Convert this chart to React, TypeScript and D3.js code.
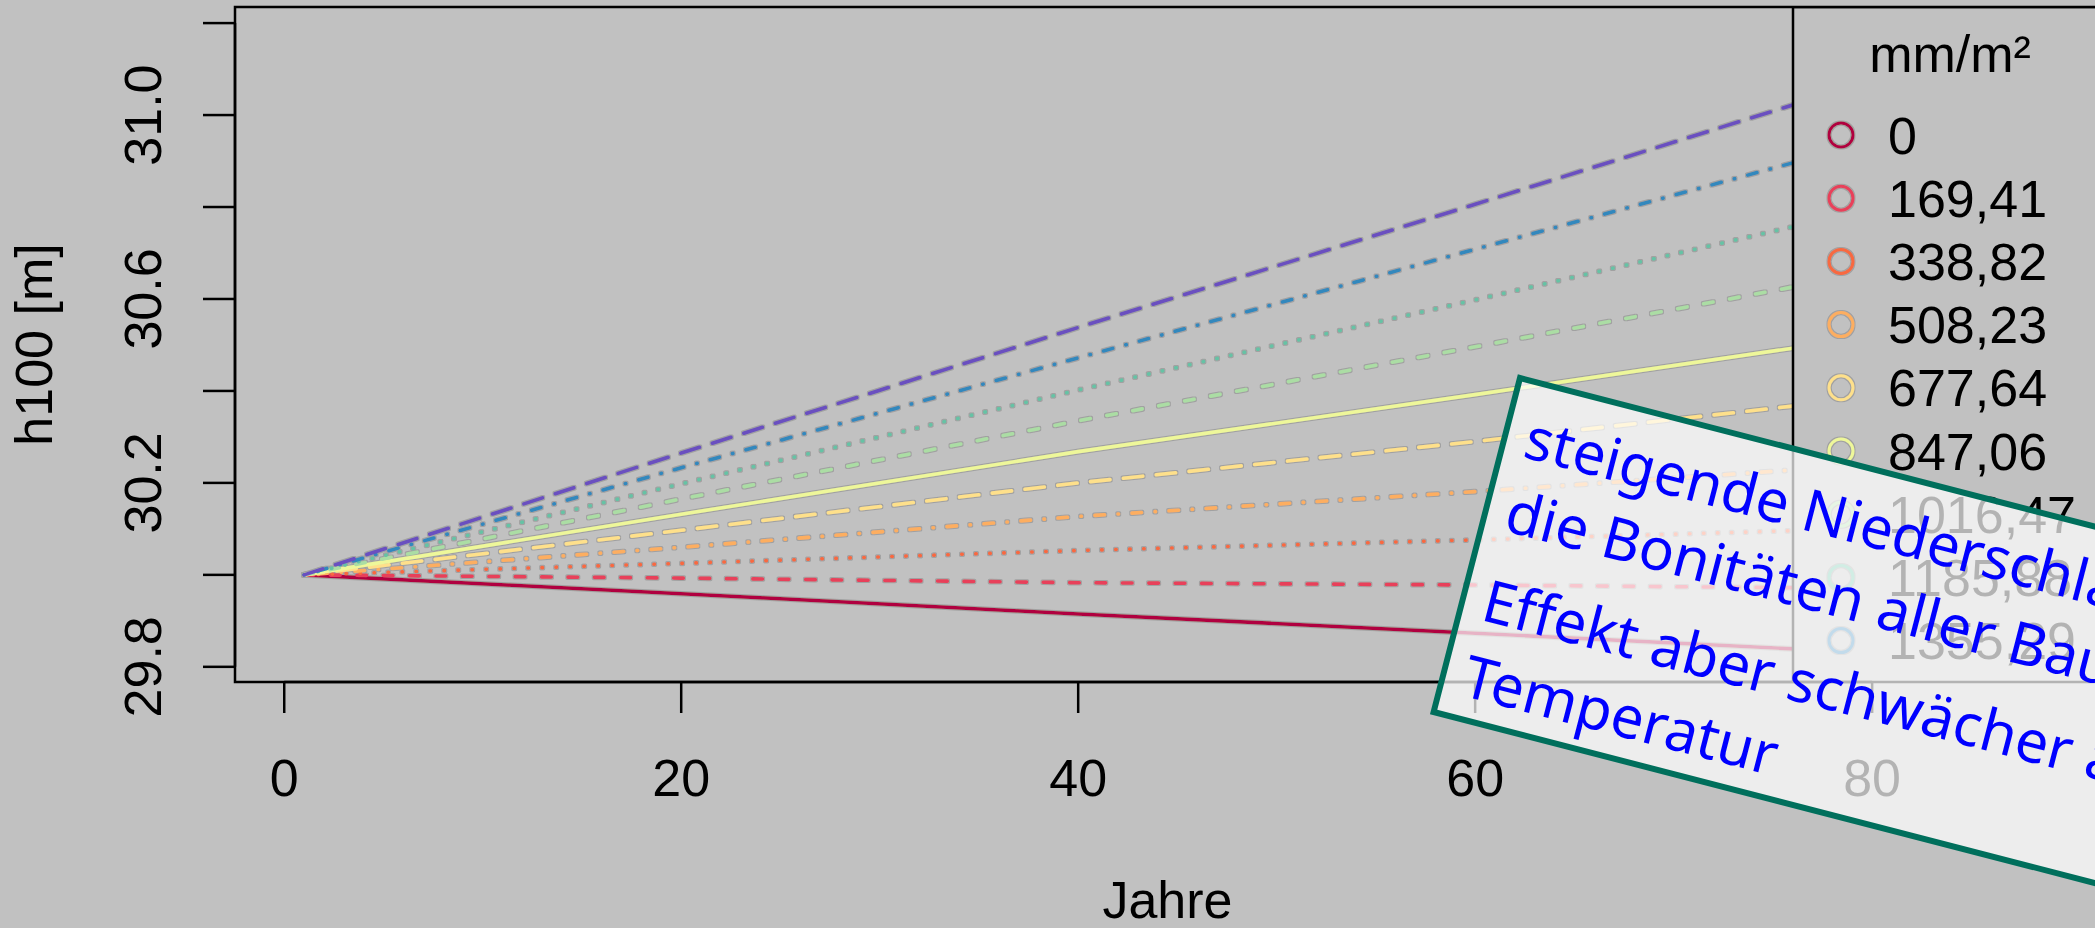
import React from 'react';
import * as d3 from 'd3';

// ---------- data ----------
const years = [1, 20, 40, 60, 76, 88];
const precipLabels = ['0', '169,41', '338,82', '508,23', '677,64', '847,06', '1016,47', '1185,88', '1355,29', '1524,71'];
const h100_p0 = [30.0, 29.959, 29.915, 29.873, 29.839, 29.814];
const h100_p169 = [30.0, 29.993, 29.983, 29.978, 29.972, 29.968];
const h100_p338 = [30.0, 30.025, 30.053, 30.076, 30.096, 30.112];
const h100_p508 = [30.0, 30.06, 30.127, 30.181, 30.228, 30.264];
const h100_p677 = [30.0, 30.097, 30.2, 30.29, 30.367, 30.425];
const h100_p847 = [30.0, 30.132, 30.268, 30.392, 30.493, 30.57];
const h100_p1016 = [30.0, 30.165, 30.335, 30.496, 30.626, 30.726];
const h100_p1185 = [30.0, 30.198, 30.402, 30.598, 30.757, 30.878];
const h100_p1355 = [30.0, 30.233, 30.472, 30.708, 30.896, 31.04];
const h100_p1524 = [30.0, 30.265, 30.538, 30.806, 31.022, 31.186];
const seriesValues = [h100_p0, h100_p169, h100_p338, h100_p508, h100_p677, h100_p847, h100_p1016, h100_p1185, h100_p1355, h100_p1524];
const seriesColors = ['#B0063F', '#E8405A', '#F8693F', '#FDAE61', '#FEE08B', '#EEF79A', '#ABDDA4', '#66C2A5', '#3288BD', '#6A4FC0'];
const seriesLty = [1, 2, 3, 4, 5, 1, 2, 3, 4, 5];
const xTicks = [0, 20, 40, 60, 80];
const yTicks = [29.8, 30.0, 30.2, 30.4, 30.6, 30.8, 31.0, 31.2];
const yTickLabels = ['29.8', '', '30.2', '', '30.6', '', '31.0', ''];
const xLim = [-2.48, 91.48];
const yLim = [29.767, 31.235];
const noteLines = ['steigende Niederschläge erhöhen', 'die Bonitäten aller Baumarten,', 'Effekt aber schwächer als', 'Temperatur'];

// R lty patterns (in line-width units)
const ltyPatterns: Record<number, number[] | null> = {
  1: null,
  2: [4, 4],
  3: [1, 3],
  4: [1, 3, 4, 3],
  5: [7, 3],
};

export default function App() {
  const W = 2095, H = 928;
  const plot = { left: 235, right: 2100, top: 7, bottom: 682 };
  const x = d3.scaleLinear().domain(xLim).range([plot.left, plot.right]);
  const y = d3.scaleLinear().domain(yLim).range([plot.bottom, plot.top]);
  const line = d3.line<number>().x((_, i) => x(years[i])).y((v) => y(v));
  const lw = 3.6;
  const unit = 3.3;
  const dash = (lty: number) => {
    const p = ltyPatterns[lty];
    if (!p) return undefined;
    return p.map((v, i) => (i % 2 === 0 ? Math.max(0.5, v * unit - lw) : v * unit + lw)).join(' ');
  };
  const font = "'Liberation Sans', Arial, sans-serif";
  const fs = 52;

  const legendX = 1793;
  const legendCircleX = 1841;
  const legendTextX = 1888;
  const legendFirstY = 135;
  const legendStep = 63.2;

  const bg = '#c1c1c1';

  return (
    <svg width={W} height={H} style={{ position: 'absolute', left: 0, top: 0 }} xmlns="http://www.w3.org/2000/svg">
      <defs>
        <clipPath id="plotClip">
          <rect x={plot.left} y={plot.top} width={plot.right - plot.left} height={plot.bottom - plot.top} />
        </clipPath>
        <filter id="outline" filterUnits="userSpaceOnUse" x="0" y="0" width={W} height={H}>
          <feMorphology in="SourceAlpha" operator="dilate" radius="1" result="d" />
          <feFlood floodColor="#808080" floodOpacity="0.5" />
          <feComposite in2="d" operator="in" result="o" />
          <feMerge>
            <feMergeNode in="o" />
            <feMergeNode in="SourceGraphic" />
          </feMerge>
        </filter>
      </defs>
      <rect x={0} y={0} width={W} height={H} fill={bg} />

      {/* lines */}
      <g clipPath="url(#plotClip)">
        <g filter="url(#outline)">
          {seriesValues.map((vals, i) => (
            <path
              key={i}
              d={line(vals) || ''}
              fill="none"
              stroke={seriesColors[i]}
              strokeWidth={lw}
              strokeLinecap="round"
              strokeDasharray={dash(seriesLty[i])}
            />
          ))}
        </g>
      </g>

      {/* legend (clipped to plot region like R with xpd=FALSE) */}
      <g clipPath="url(#plotClip)">
        <rect x={legendX} y={plot.top} width={400} height={740} fill={bg} stroke="#000" strokeWidth={2.5} />
        <text x={1950} y={72} fontFamily={font} fontSize={fs} textAnchor="middle" fill="#000">
          mm/m²
        </text>
        <g filter="url(#outline)">
          {precipLabels.map((lab, i) => (
            <circle key={i} cx={legendCircleX} cy={legendFirstY + i * legendStep} r={12} fill="none" stroke={seriesColors[i]} strokeWidth={3} />
          ))}
        </g>
        {precipLabels.map((lab, i) => (
          <text key={i} x={legendTextX} y={legendFirstY + i * legendStep + 18.5} fontFamily={font} fontSize={fs} fill="#000">
            {lab}
          </text>
        ))}
      </g>

      {/* box */}
      <rect x={plot.left} y={plot.top} width={plot.right - plot.left} height={plot.bottom - plot.top} fill="none" stroke="#000" strokeWidth={2.5} />

      {/* y axis */}
      <line x1={plot.left} x2={plot.left} y1={y(yTicks[0])} y2={y(yTicks[yTicks.length - 1])} stroke="#000" strokeWidth={2.5} />
      {yTicks.map((t, i) => (
        <g key={i}>
          <line x1={plot.left - 32} x2={plot.left} y1={y(t)} y2={y(t)} stroke="#000" strokeWidth={2.5} />
          {yTickLabels[i] && (
            <text transform={`translate(161,${y(t)}) rotate(-90)`} fontFamily={font} fontSize={fs} textAnchor="middle" fill="#000">
              {yTickLabels[i]}
            </text>
          )}
        </g>
      ))}
      <text transform={`translate(52,${(plot.top + plot.bottom) / 2}) rotate(-90)`} fontFamily={font} fontSize={fs} textAnchor="middle" fill="#000">
        h100 [m]
      </text>

      {/* x axis */}
      <line x1={x(xTicks[0])} x2={x(xTicks[xTicks.length - 1])} y1={plot.bottom} y2={plot.bottom} stroke="#000" strokeWidth={2.5} />
      {xTicks.map((t, i) => (
        <g key={i}>
          <line x1={x(t)} x2={x(t)} y1={plot.bottom} y2={plot.bottom + 31} stroke="#000" strokeWidth={2.5} />
          <text x={x(t)} y={796} fontFamily={font} fontSize={fs} textAnchor="middle" fill="#000">
            {t}
          </text>
        </g>
      ))}
      <text x={(plot.left + plot.right) / 2} y={918} fontFamily={font} fontSize={fs} textAnchor="middle" fill="#000">
        Jahre
      </text>

      {/* annotation box */}
      <g transform="translate(1520,378) rotate(14.5)">
        <rect x={0} y={0} width={900} height={345} fill="#ffffff" fillOpacity={0.7} stroke="#006f5c" strokeWidth={6} />
        {noteLines.map((t, i) => (
          <text key={i} x={21} y={[76, 152, 244, 322][i]} fontFamily="'Noto Sans', 'Open Sans', sans-serif" fontSize={58.5} fill="#0000ff">
            {t}
          </text>
        ))}
      </g>
    </svg>
  );
}
